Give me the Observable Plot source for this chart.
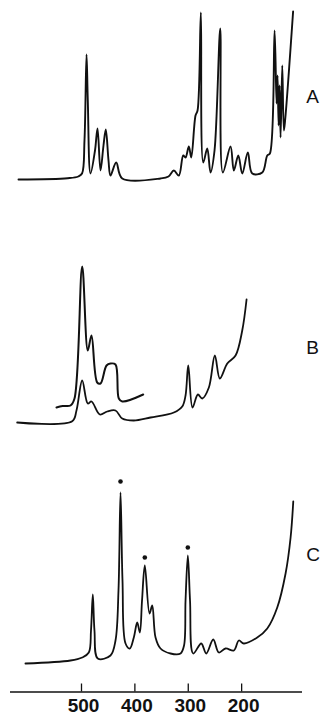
<!DOCTYPE html>
<html>
<head>
<meta charset="utf-8">
<script src="https://cdn.jsdelivr.net/npm/d3@7"></script>
<script src="https://cdn.jsdelivr.net/npm/@observablehq/plot@0.6"></script>
<style>
  html, body { margin: 0; padding: 0; background: #fff; }
  #chart { width: 321px; height: 714px; overflow: hidden; }
</style>
</head>
<body>
<div id="chart"></div>
<script>
// wavenumber (cm-1) and relative intensity
const spectrumA = [
  [618,0],[526,1.3],[506,3],[499,6],[494.4,39],[490.6,125],[488.2,79],[483.1,6],
  [474.7,29],[470,51],[464.4,9],[458.8,34],[454.5,50],[449.4,19],[445.7,4],[435,17],
  [423.7,1],[352,1],[337,3],[327,9],[317.7,4],[309.4,24],[305.1,22],[298.9,33],
  [294.4,22],[286.4,64],[282.6,69],[276.4,167],[271.9,17],[264.4,31],[258.3,7],
  [250.8,29],[240.1,151],[235.2,7],[220.8,33],[214.6,9],[206.3,24],[198.8,6],
  [188.4,27],[180.1,6],[161.4,7],[152,24],[147.1,26],[138.3,149],[134.6,76],
  [132.7,104],[130.8,54],[128.9,94],[127.1,42],[123.9,114],[120.9,49],[118.6,59],[103.6,168]
];
const spectrumB = [
  [620.5,0],[517.4,1.3],[509.4,12],[498.7,42],[488.2,19],[481.3,21],[465.7,8],
  [451.8,11],[436.3,12],[423.7,4],[402,2],[370.7,5],[327,10],[311.3,16],[305.1,27],
  [300,57],[292,15],[282,28],[273.8,24],[261.4,35],[250.2,67],[240.8,44],[226.9,59],
  [211.4,67],[198.9,92],[190.8,123]
];
const spectrumBExpanded = [
  [546.9,15],[535.6,16.5],[520.6,17],[513.1,24],[498.7,156],[488.2,72],[481.3,87],
  [470.6,40],[464.4,39],[453.1,57],[445.7,59],[436.3,58],[430.1,24],[423.7,21],[384.4,28]
];
const spectrumC = [
  [605,0],[520.6,3],[498.7,6],[486.3,11],[482.2,33],[478.8,69],[475.7,33],[469.5,5],
  [445.7,8],[436.3,23],[430.7,73],[426.9,171],[423.2,83],[417.5,20],[409.5,15],
  [402,26],[395.6,41],[390.7,31],[386.6,63],[381.4,98],[372.6,50],[367.5,58],
  [361.3,26],[352,15],[333.2,10],[314.5,10],[307.9,18],[305.1,63],[300.8,108],
  [296.7,63],[290.7,10],[275.7,20],[266.3,10],[253.2,24],[242.7,11],[230.1,15],
  [214.6,13],[205.2,23],[195.9,20],[170.8,26],[152,35],[133.3,56],[117.7,90],
  [108.3,126],[103.3,162]
];
const markedPeaksC = [[426.9,182],[381.4,106],[300.8,116]];
const traceLabels = ["A","B","C"];
const traceOffsets = [512.5, 269.5, 28.5];
const labelHeights = [77, 69, 103];
const labelWavenumber = 79;
const xTicks = [500, 400, 300, 200];

const rows = (arr, off) => arr.map(([x, v]) => ({x, y: v + off}));
const A = rows(spectrumA, traceOffsets[0]);
const B = rows(spectrumB, traceOffsets[1]);
const Bx = rows(spectrumBExpanded, traceOffsets[1]);
const C = rows(spectrumC, traceOffsets[2]);
const dots = rows(markedPeaksC, traceOffsets[2]);
const labels = traceLabels.map((t, i) => ({t, x: labelWavenumber, y: traceOffsets[i] + labelHeights[i]}));

const chart = Plot.plot({
  width: 321,
  height: 714,
  marginLeft: 10,
  marginRight: 19,
  marginTop: 0,
  marginBottom: 22.5,
  x: {domain: [633, 86], axis: null},
  y: {domain: [0, 691.5], axis: null},
  style: {background: "#fff", fontFamily: "'Liberation Sans', Arial, sans-serif"},
  marks: [
    Plot.ruleY([0], {stroke: "#111", strokeWidth: 1.6}),
    Plot.ruleX(xTicks, {y1: 0, y2: 8, stroke: "#111", strokeWidth: 1.3}),
    Plot.axisX({ticks: xTicks, label: null, tickSize: 0, tickPadding: 6, fontSize: 19, fontWeight: "bold", dx: 2, fill: "#111"}),
    Plot.line(A, {x: "x", y: "y", curve: "catmull-rom", stroke: "#111", strokeWidth: 1.9}),
    Plot.line(B, {x: "x", y: "y", curve: "catmull-rom", stroke: "#111", strokeWidth: 1.8}),
    Plot.line(Bx, {x: "x", y: "y", curve: "catmull-rom", stroke: "#111", strokeWidth: 2}),
    Plot.line(C, {x: "x", y: "y", curve: "catmull-rom", stroke: "#111", strokeWidth: 1.8}),
    Plot.dot(dots, {x: "x", y: "y", r: 2.3, fill: "#111", stroke: "none"}),
    Plot.text(labels, {x: "x", y: "y", text: "t", textAnchor: "start", lineAnchor: "bottom", fontSize: 19, fill: "#111", clip: false})
  ]
});
document.getElementById("chart").appendChild(chart);
</script>
</body>
</html>
